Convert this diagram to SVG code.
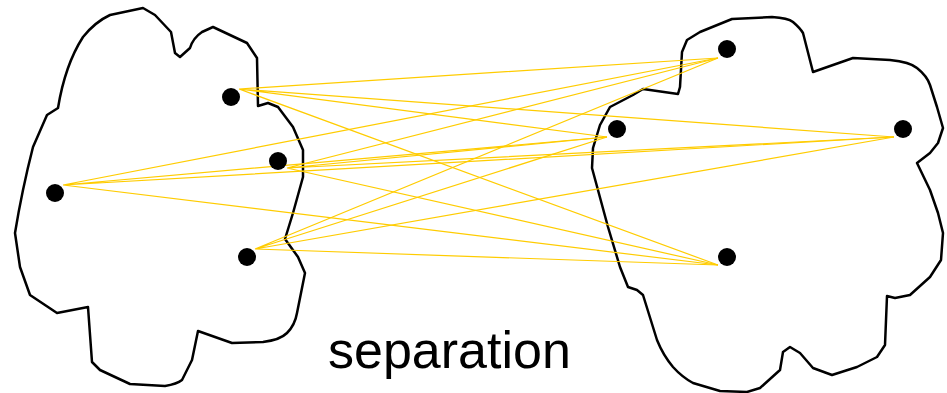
<svg xmlns="http://www.w3.org/2000/svg" width="947" height="393" viewBox="0 0 947 393">
<style>
.blob{fill:none;stroke:#000;stroke-width:2.5;stroke-linejoin:round}
.dot{fill:#000}
.link{stroke:#FFCC00;stroke-width:1.2;fill:none}
.lbl{font-family:"Liberation Sans",Arial,sans-serif;font-size:52px;fill:#000}
</style>
<rect width="947" height="393" fill="#fff"/>
<g id="blob-left">
<path class="blob" d="M143,8 L110,15 Q95,22 83,37 Q65,65 58,108 L47,115 L33,147 Q22,190 15,233 L20,267 L30,295 L57,313 L88,307 L92,362 L100,370 L130,384 L165,386 Q177,384 182,380 L192,360 L198,331 L232,343 L263,342 Q280,340 287,333 Q295,325 297,313 L305,273 L298,257 L285,239 L293,213 L303,177 L303,150 L293,127 L278,107 L268,103 L258,106 L257,58 L247,43 L213,27 L202,32 Q193,38 190,48 L180,57 L175,53 L171,32 L155,15 Z"/>
</g>
<g id="blob-right">
<path class="blob" d="M732,19 L772,17 Q788,18 793,22 Q800,28 803,33 L813,72 L853,58 L890,60 Q910,62 917,68 Q927,76 930,85 L937,107 L943,128 L938,143 L930,153 L917,163 L930,190 L938,213 L943,233 L941,260 L930,277 L910,295 L895,298 L887,296 L885,345 L877,357 L857,367 L832,375 L813,368 L800,353 L790,347 L783,352 L780,370 L760,388 L747,392 L720,391 L693,383 Q682,377 673,367 Q663,355 657,340 L643,295 L637,290 L628,287 L620,267 L608,227 L592,168 L593,148 L600,125 L610,107 L633,95 L643,89 L678,94 L680,87 L682,52 L687,40 L700,32 Z"/>
</g>
<g id="connectors">
<path class="link" d="M239,89 L718,58 M239,89 L607,137 M239,89 L894,137 M239,89 L718,265"/>
<path class="link" d="M63,185 L718,58 M63,185 L607,137 M63,185 L894,137 M63,185 L718,265"/>
<path class="link" d="M287,168 L718,58 M287,168 L607,137 M287,168 L894,137 M287,168 L718,265"/>
<path class="link" d="M255,249 L718,58 M255,249 L607,137 M255,249 L894,137 M255,249 L718,265"/>
</g>
<g id="node-l1"><circle class="dot" cx="231" cy="97" r="9"/></g>
<g id="node-l2"><circle class="dot" cx="55" cy="193" r="9"/></g>
<g id="node-l3"><circle class="dot" cx="278" cy="161" r="9"/></g>
<g id="node-l4"><circle class="dot" cx="247" cy="257" r="9"/></g>
<g id="node-r1"><circle class="dot" cx="727" cy="49" r="9"/></g>
<g id="node-r2"><circle class="dot" cx="617" cy="129" r="9"/></g>
<g id="node-r3"><circle class="dot" cx="903" cy="129" r="9"/></g>
<g id="node-r4"><circle class="dot" cx="727" cy="257" r="9"/></g>
<text class="lbl" x="328" y="368">separation</text>
</svg>
